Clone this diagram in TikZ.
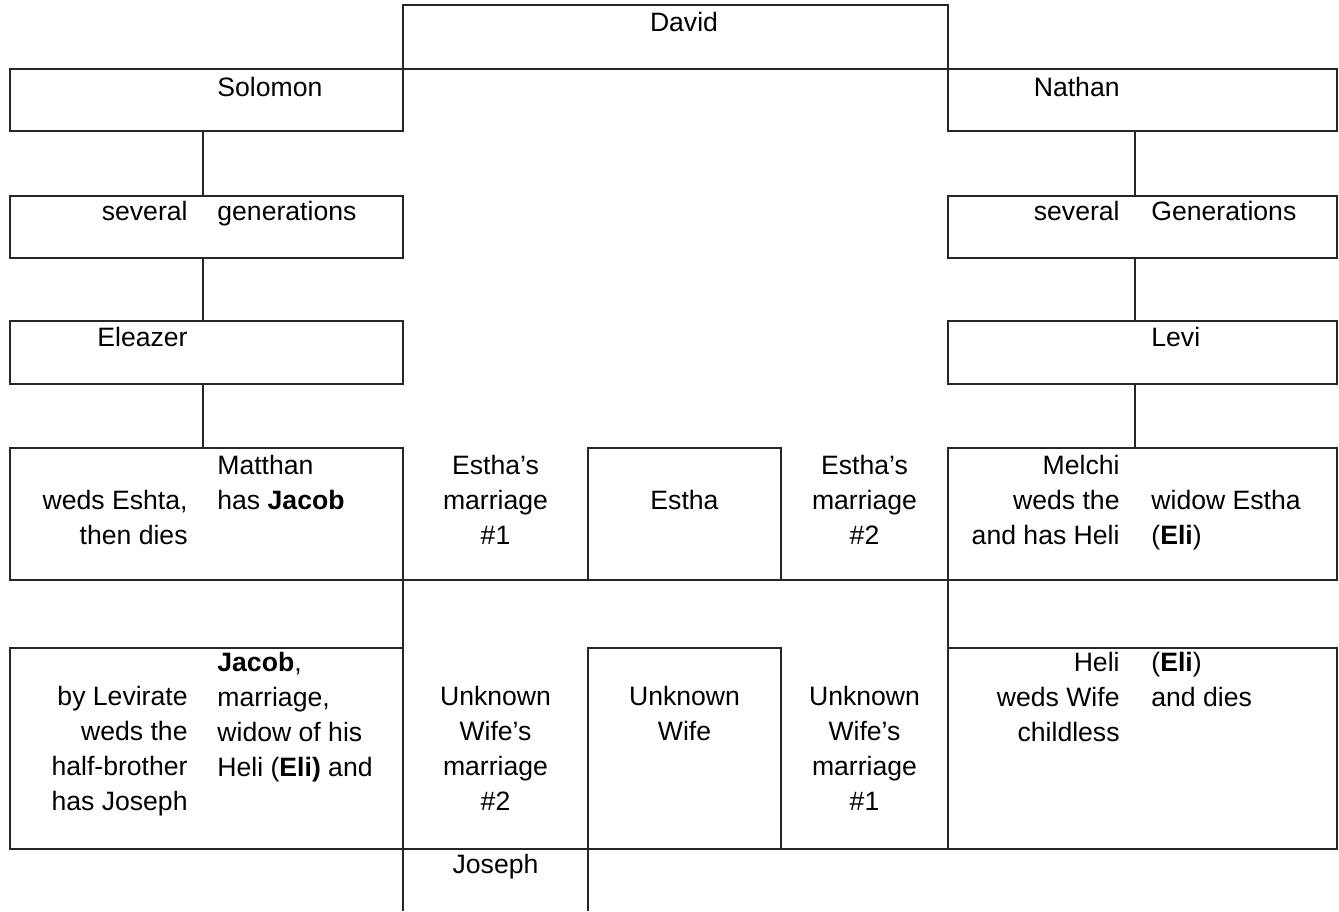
\documentclass[tikz,border=0pt]{standalone}
\usepackage{fontspec}
\setmainfont{Liberation Sans}
\usepackage{tikz}
\usetikzlibrary{positioning}

\tikzset{
  cell/.style 2 args={draw=black!85, line width=0.6pt, anchor=north west, inner sep=0pt,
    outer sep=0pt, minimum width=#1*0.5pt, minimum height=#2*0.5pt},
  colR/.style={anchor=base east, align=right, inner sep=0pt},
  colL/.style={anchor=base west, align=left, inner sep=0pt},
  colC/.style={anchor=base, align=center, inner sep=0pt},
  link/.style={draw=black!85, line width=0.6pt}
}

\begin{document}
\begin{tikzpicture}[x=0.5pt, y=-0.5pt, font=\fontsize{13.3}{17.5}\selectfont]
        \useasboundingbox (0,0) rectangle (1339,911);
        \coordinate (trunkL) at (203,0);
        \coordinate (trunkR) at (1135,0);
        \coordinate (bottom) at (0,911);

        \node[cell={545}{64}] (David) at (403,5) {};
        \node[cell={393}{62}] (Solomon) at (10,69) {};
        \node[cell={389}{62}] (Nathan) at (948,69) {};

        \node[cell={393}{62}] (GensL) at (10,196) {};
        \node[cell={389}{62}] (GensR) at (948,196) {};

        \node[cell={393}{63}] (Eleazer) at (10,321) {};
        \node[cell={389}{63}] (Levi) at (948,321) {};

        \node[cell={393}{132}] (Matthan) at (10,448) {};
        \node[cell={193}{132}] (Estha) at (588,448) {};
        \node[cell={389}{132}] (Melchi) at (948,448) {};

        \node[cell={393}{201}] (Jacob) at (10,648) {};
        \node[cell={193}{201}] (UnkWife) at (588,648) {};
        \node[cell={389}{201}] (Heli) at (948,648) {};

        % texts (placed at the baseline of their last line)
        \node[colC] (tDavid) at (684,31) {David};
        \node[colL] (tSolomon) at (217,96) {Solomon};
        \node[colR] (tNathan) at (1120,96) {Nathan};

        \node[colR] (tGensL1) at (188,220.5) {several};
        \node[colL] (tGensL2) at (217,220.5) {generations};
        \node[colR] (tGensR1) at (1120,220.5) {several};
        \node[colL] (tGensR2) at (1151,220.5) {Generations};

        \node[colR] (tEleazer) at (188,346) {Eleazer};
        \node[colL] (tLevi) at (1151,346) {Levi};

        \node[colR] (tMatthan1) at (188,544) {weds Eshta,\\then dies};
        \node[colL] (tMatthan2) at (217,509) {Matthan\\has \textbf{Jacob}};
        \node[colC] (tMarr1) at (495.5,544) {Estha’s\\marriage\\\#1};
        \node[colC] (tEstha) at (684.5,509) {Estha};
        \node[colC] (tMarr2) at (864.5,544) {Estha’s\\marriage\\\#2};
        \node[colR] (tMelchi1) at (1120,544) {Melchi\\weds the\\and has Heli};
        \node[colL] (tMelchi2) at (1151,544) {widow Estha\\(\textbf{Eli})};

        \node[colR] (tJacob1) at (188,810) {by Levirate\\weds the\\half-brother\\has Joseph};
        \node[colL] (tJacob2) at (217,776) {\textbf{Jacob},\\marriage,\\widow of his\\Heli (\textbf{Eli)} and};
        \node[colC] (tMarr3) at (495.5,810) {Unknown\\Wife’s\\marriage\\\#2};
        \node[colC] (tUnkWife) at (684.5,740) {Unknown\\Wife};
        \node[colC] (tMarr4) at (864.5,810) {Unknown\\Wife’s\\marriage\\\#1};
        \node[colR] (tHeli1) at (1120,741) {Heli\\weds Wife\\childless};
        \node[colL] (tHeli2) at (1151,706) {(\textbf{Eli})\\and dies};
        \node[colC] (tJoseph) at (495.5,873) {Joseph};

        % lines of descent
        \draw[link] (Solomon.south -| trunkL) -- (GensL.north -| trunkL);
        \draw[link] (GensL.south -| trunkL) -- (Eleazer.north -| trunkL);
        \draw[link] (Eleazer.south -| trunkL) -- (Matthan.north -| trunkL);
        \draw[link] (Nathan.south -| trunkR) -- (GensR.north -| trunkR);
        \draw[link] (GensR.south -| trunkR) -- (Levi.north -| trunkR);
        \draw[link] (Levi.south -| trunkR) -- (Melchi.north -| trunkR);

        % marriages
        \draw[link] (Matthan.south east) -- (Estha.south west);
        \draw[link] (Estha.south east) -- (Melchi.south west);
        \draw[link] (Matthan.south east) -- (Jacob.north east);
        \draw[link] (Melchi.south west) -- (Heli.north west);
        \draw[link] (Jacob.south east) -- (UnkWife.south west);
        \draw[link] (UnkWife.south east) -- (Heli.south west);
        \draw[link] (Jacob.south east) -- (Jacob.south east |- bottom);
        \draw[link] (UnkWife.south west) -- (UnkWife.south west |- bottom);
    \end{tikzpicture}
\end{document}
